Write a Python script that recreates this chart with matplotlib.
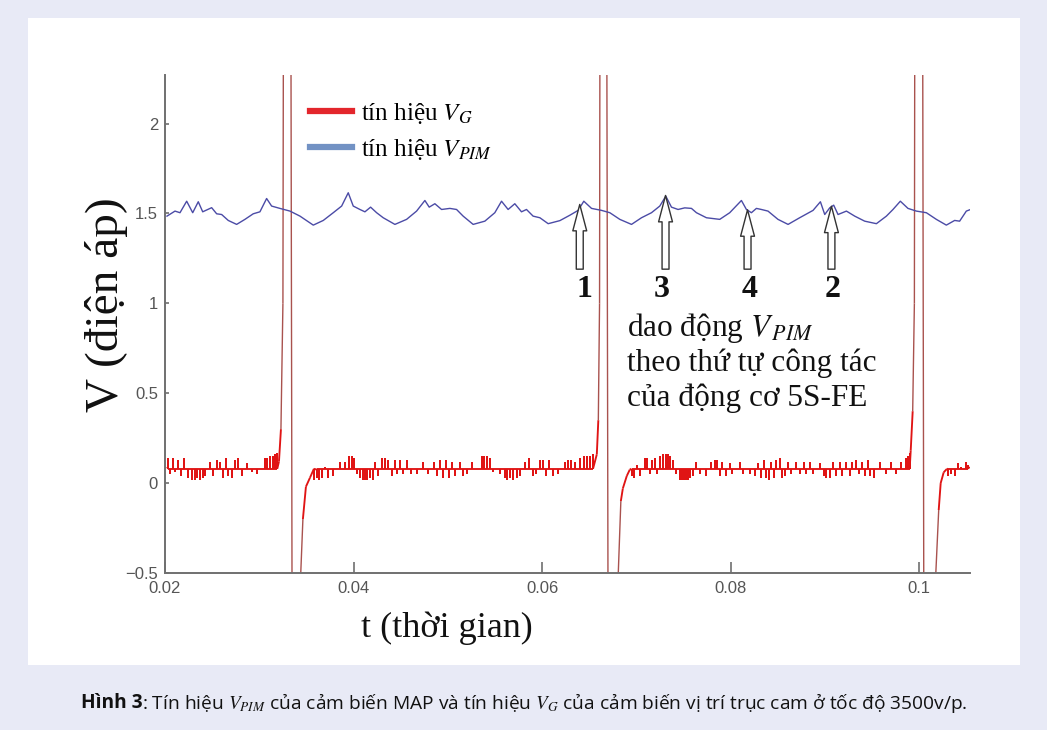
import numpy as np
import matplotlib.pyplot as plt
from matplotlib.collections import LineCollection
from matplotlib.lines import Line2D
from matplotlib.patches import Rectangle

plt.rcParams['mathtext.fontset'] = 'stix'

# V_PIM signal (MAP sensor)
pim_t = [0.02021, 0.02106, 0.02159, 0.02230, 0.02294, 0.02353, 0.02400, 0.02495,
         0.02548, 0.02601, 0.02671, 0.02760, 0.02848, 0.02936, 0.03007, 0.03078,
         0.03131, 0.03219, 0.03326, 0.03432, 0.03573, 0.03679, 0.03785, 0.03874,
         0.03944, 0.03997, 0.04068, 0.04121, 0.04181, 0.04245, 0.04315, 0.04439,
         0.04563, 0.04669, 0.04757, 0.04803, 0.04863, 0.04934, 0.05022, 0.05093,
         0.05163, 0.05269, 0.05393, 0.05499, 0.05570, 0.05640, 0.05711, 0.05782,
         0.05835, 0.05905, 0.05977, 0.06065, 0.06189, 0.06295, 0.06383, 0.06443,
         0.06525, 0.06631, 0.06719, 0.06825, 0.06949, 0.07055, 0.07161, 0.07249,
         0.07313, 0.07373, 0.07443, 0.07514, 0.07585, 0.07638, 0.07744, 0.07885,
         0.07991, 0.08115, 0.08168, 0.08221, 0.08274, 0.08327, 0.08397, 0.08503,
         0.08610, 0.08733, 0.08875, 0.08953, 0.08999, 0.09052, 0.09094, 0.09140,
         0.09229, 0.09317, 0.09423, 0.09547, 0.09653, 0.09723, 0.09801, 0.09882,
         0.09971, 0.10077, 0.10183, 0.10289, 0.10377, 0.10430, 0.10501, 0.10536]
pim_v = [1.485, 1.513, 1.504, 1.568, 1.504, 1.565, 1.509, 1.532,
         1.498, 1.494, 1.461, 1.439, 1.467, 1.498, 1.509, 1.583,
         1.541, 1.528, 1.513, 1.485, 1.435, 1.461, 1.504, 1.541,
         1.615, 1.541, 1.522, 1.509, 1.535, 1.504, 1.476, 1.439,
         1.467, 1.513, 1.572, 1.535, 1.554, 1.522, 1.528, 1.522,
         1.485, 1.439, 1.457, 1.504, 1.568, 1.522, 1.554, 1.509,
         1.522, 1.485, 1.476, 1.443, 1.460, 1.490, 1.517, 1.568,
         1.528, 1.517, 1.504, 1.467, 1.439, 1.476, 1.504, 1.541,
         1.596, 1.535, 1.522, 1.531, 1.528, 1.504, 1.476, 1.467,
         1.504, 1.572, 1.522, 1.504, 1.528, 1.522, 1.513, 1.467,
         1.439, 1.476, 1.517, 1.565, 1.494, 1.531, 1.546, 1.494,
         1.513, 1.485, 1.457, 1.443, 1.485, 1.522, 1.568, 1.528,
         1.513, 1.504, 1.467, 1.435, 1.461, 1.457, 1.513, 1.520]

# V_G signal (cam position sensor): pulse edges and baseline spikes
vg_base = 0.08
vg_edge_t = [0.02021,
             0.03209, 0.03230, 0.03251, 0.03256, 0.03336, 0.03348, 0.03425,
             0.03463, 0.03495, 0.03538, 0.03601,
             0.06581, 0.06597, 0.06610, 0.06614, 0.06687, 0.06700, 0.06795,
             0.06836, 0.06857, 0.06899, 0.06931,
             0.09911, 0.09932, 0.09950, 0.09954, 0.10038, 0.10050, 0.10160,
             0.10208, 0.10229, 0.10261, 0.10293,
             0.10536]
vg_edge_v = [0.09,
             0.12, 0.30, 1.0, 2.5, 2.5, -0.7, -0.7,
             -0.2, -0.02, 0.03, 0.075,
             0.16, 0.35, 1.0, 2.5, 2.5, -0.7, -0.7,
             -0.1, -0.03, 0.04, 0.075,
             0.18, 0.40, 1.0, 2.5, 2.5, -0.7, -0.7,
             -0.15, 0.0, 0.06, 0.078,
             0.09]
vg_spike_t = [0.02035, 0.02053, 0.02081, 0.02106, 0.02141, 0.02166, 0.02201, 0.02247,
              0.02283, 0.02318, 0.02343, 0.02371, 0.02400, 0.02424, 0.02477, 0.02506,
              0.02555, 0.02583, 0.02612, 0.02647, 0.02671, 0.02707, 0.02742, 0.02777,
              0.02813, 0.02873, 0.02919, 0.02972, 0.03060, 0.03085, 0.03113, 0.03142,
              0.03166, 0.03191,
              0.03580, 0.03609, 0.03637, 0.03668, 0.03697, 0.03732, 0.03785, 0.03856,
              0.03909, 0.03955, 0.03980, 0.04004, 0.04033, 0.04068, 0.04096, 0.04121,
              0.04145, 0.04174, 0.04202, 0.04227, 0.04262, 0.04298, 0.04333, 0.04368,
              0.04404, 0.04439, 0.04463, 0.04492, 0.04527, 0.04563, 0.04605, 0.04669,
              0.04739, 0.04792, 0.04853, 0.04888, 0.04916, 0.04952, 0.04980, 0.05008,
              0.05040, 0.05075, 0.05128, 0.05164, 0.05199, 0.05252, 0.05358, 0.05383,
              0.05411, 0.05446, 0.05482, 0.05552, 0.05605, 0.05630, 0.05658, 0.05694,
              0.05729, 0.05764, 0.05817, 0.05863, 0.05899, 0.05941, 0.05976, 0.06011,
              0.06047, 0.06075, 0.06117, 0.06170, 0.06241, 0.06276, 0.06312, 0.06347,
              0.06407, 0.06442, 0.06478, 0.06513, 0.06541,
              0.06949, 0.06977, 0.07002, 0.07037, 0.07090, 0.07115, 0.07143, 0.07171,
              0.07196, 0.07221, 0.07256, 0.07284, 0.07313, 0.07337, 0.07362, 0.07390,
              0.07426, 0.07461, 0.07479, 0.07497, 0.07514, 0.07532, 0.07550, 0.07567,
              0.07603, 0.07638, 0.07673, 0.07744, 0.07797, 0.07832, 0.07857, 0.07886,
              0.07914, 0.07949, 0.07992, 0.08020, 0.08098, 0.08133, 0.08204, 0.08257,
              0.08292, 0.08327, 0.08352, 0.08380, 0.08409, 0.08433, 0.08458, 0.08486,
              0.08522, 0.08550, 0.08575, 0.08610, 0.08645, 0.08698, 0.08734, 0.08776,
              0.08805, 0.08840, 0.08875, 0.08946, 0.08988, 0.09017, 0.09052, 0.09087,
              0.09123, 0.09158, 0.09186, 0.09229, 0.09264, 0.09292, 0.09328, 0.09363,
              0.09398, 0.09423, 0.09459, 0.09483, 0.09519, 0.09582, 0.09653, 0.09706,
              0.09759, 0.09812, 0.09858, 0.09883, 0.09900,
              0.10307, 0.10342, 0.10378, 0.10413, 0.10448, 0.10494, 0.10519]
vg_spike_v = [0.14, 0.05, 0.14, 0.06, 0.13, 0.04, 0.14, 0.03,
              0.02, 0.02, 0.03, 0.02, 0.03, 0.04, 0.12, 0.04,
              0.13, 0.12, 0.03, 0.14, 0.04, 0.03, 0.13, 0.14,
              0.04, 0.11, 0.06, 0.05, 0.14, 0.14, 0.15, 0.15,
              0.16, 0.17,
              0.02, 0.03, 0.02, 0.03, 0.09, 0.03, 0.04, 0.12,
              0.12, 0.15, 0.15, 0.14, 0.05, 0.03, 0.02, 0.02,
              0.02, 0.03, 0.02, 0.12, 0.04, 0.14, 0.14, 0.13,
              0.04, 0.13, 0.05, 0.13, 0.05, 0.13, 0.05, 0.05,
              0.12, 0.05, 0.12, 0.04, 0.13, 0.03, 0.13, 0.03,
              0.12, 0.04, 0.12, 0.04, 0.05, 0.12, 0.15, 0.15,
              0.15, 0.14, 0.06, 0.05, 0.03, 0.02, 0.03, 0.02,
              0.03, 0.04, 0.12, 0.14, 0.04, 0.05, 0.13, 0.13,
              0.04, 0.13, 0.04, 0.05, 0.12, 0.13, 0.13, 0.12,
              0.14, 0.15, 0.15, 0.15, 0.16,
              0.04, 0.03, 0.10, 0.04, 0.14, 0.14, 0.05, 0.13,
              0.14, 0.05, 0.15, 0.16, 0.16, 0.16, 0.15, 0.13,
              0.05, 0.02, 0.02, 0.02, 0.02, 0.02, 0.02, 0.03,
              0.04, 0.12, 0.05, 0.04, 0.12, 0.13, 0.13, 0.04,
              0.12, 0.04, 0.11, 0.05, 0.12, 0.05, 0.05, 0.04,
              0.11, 0.03, 0.13, 0.03, 0.02, 0.12, 0.03, 0.13,
              0.14, 0.03, 0.04, 0.12, 0.05, 0.12, 0.05, 0.12,
              0.05, 0.12, 0.05, 0.11, 0.04, 0.03, 0.03, 0.12,
              0.04, 0.12, 0.04, 0.12, 0.04, 0.12, 0.13, 0.05,
              0.12, 0.04, 0.13, 0.04, 0.03, 0.12, 0.05, 0.12,
              0.05, 0.12, 0.14, 0.15, 0.17,
              0.04, 0.05, 0.04, 0.11, 0.09, 0.12, 0.10]

x_ticks = [0.02, 0.04, 0.06, 0.08, 0.1]
x_tick_labels = ['0.02', '0.04', '0.06', '0.08', '0.1']
y_ticks = [-0.5, 0, 0.5, 1, 1.5, 2]
y_tick_labels = ['\u22120.5', '0', '0.5', '1', '1.5', '2']

# firing order arrows (cylinders 1-3-4-2)
arrow_t = [0.0640, 0.0731, 0.0818, 0.0907]
arrow_tip = [1.55, 1.60, 1.52, 1.54]
arrow_num = ['1', '3', '4', '2']
num_t = [0.0645, 0.0727, 0.0820, 0.0908]

legend_labels = ['tín hiệu $V_G$', 'tín hiệu $V_{PIM}$']
note_lines = ['dao động $V_{\\,PIM}$', 'theo thứ tự công tác', 'của động cơ 5S-FE']


def build_vg():
    pts = [(t, 0, v) for t, v in zip(vg_edge_t, vg_edge_v)]
    for t, v in zip(vg_spike_t, vg_spike_v):
        pts += [(t, 1, vg_base), (t, 2, v), (t, 3, vg_base)]
    pts.sort()
    return np.array([[p[0], p[2]] for p in pts])


def main():
    fig = plt.figure(figsize=(10.47, 7.30), dpi=100, facecolor='#e8eaf6')
    fig.add_artist(Rectangle((28 / 1047, 65 / 730), 992 / 1047, 647 / 730,
                             transform=fig.transFigure, fc='white', ec='none', zorder=0))

    ax = fig.add_axes([165 / 1047, 157 / 730, 805 / 1047, 498 / 730])
    ax.set_facecolor('none')

    # red V_G line: big edges are drawn thinner in a duller red
    xy = build_vg()
    segs = np.stack([xy[:-1], xy[1:]], axis=1)
    big = np.abs(np.diff(xy[:, 1])) > 0.3
    colors = np.where(big, '#a9524e', '#e01414')
    widths = np.where(big, 1.0, 1.35)
    lc = LineCollection(segs, colors=colors, linewidths=widths, zorder=2)
    ax.add_collection(lc)

    ax.plot(pim_t, pim_v, color='#4b4ba6', lw=1.0, zorder=3)

    ax.set_xlim(0.02, 0.1054)
    ax.set_ylim(-0.5, 2.27)

    for s in ['top', 'right']:
        ax.spines[s].set_visible(False)
    for s in ['left', 'bottom']:
        ax.spines[s].set_color('#707070')
        ax.spines[s].set_linewidth(1.4)

    ax.set_xticks(x_ticks)
    ax.set_xticklabels(x_tick_labels)
    ax.set_yticks(y_ticks)
    ax.set_yticklabels(y_tick_labels)
    ax.tick_params(axis='x', direction='in', length=8, width=1.2, color='#707070',
                   pad=6, labelsize=12, labelcolor='#555555')
    ax.tick_params(axis='y', direction='in', length=3, width=1.2, color='#707070',
                   pad=5, labelsize=12, labelcolor='#555555')
    for lab in ax.get_xticklabels() + ax.get_yticklabels():
        lab.set_family('Liberation Sans')

    # legend
    handles = [Line2D([], [], color='#e3262c', lw=4.5),
               Line2D([], [], color='#7292c4', lw=4.5)]
    ax.legend(handles, legend_labels, loc='upper left', bbox_to_anchor=(0.180, 0.948),
              frameon=False, borderpad=0, borderaxespad=0, handlelength=1.7,
              handletextpad=0.35, labelspacing=0.45,
              prop={'family': 'Liberation Serif', 'size': 18})

    # hollow arrows and cylinder numbers
    for t, tip in zip(arrow_t, arrow_tip):
        ax.annotate('', xy=(t, tip), xytext=(t, 1.19),
                    arrowprops=dict(arrowstyle='simple,head_length=1.9,head_width=1.0,tail_width=0.5',
                                    fc='white', ec='#333333', lw=1.0, mutation_scale=10,
                                    shrinkA=0, shrinkB=0), zorder=4)
    for t, n in zip(num_t, arrow_num):
        ax.text(t, 1.075, n, ha='center', va='center', fontsize=23, fontweight='bold',
                family='Liberation Serif', color='#111111')

    for i, line in enumerate(note_lines):
        ax.text(0.0690, 0.86 - i * 0.195, line, ha='left', va='center', fontsize=22.5,
                family='Liberation Serif', color='#111111')

    # axis labels
    fig.text(447 / 1047, 1 - 628 / 730, 't (thời gian)', ha='center', va='center',
             fontsize=26, family='Liberation Serif', color='#111111')
    fig.text(107 / 1047, 1 - 305 / 730, 'V (điện áp)', ha='center', va='center',
             rotation=90, fontsize=34, family='Liberation Serif', color='#111111')

    # caption
    cap_y = 1 - 703 / 730
    t1 = fig.text(0, cap_y, 'Hình 3', ha='left', va='center', fontsize=13.8,
                  fontweight='bold', family='Open Sans', color='#111111')
    t2 = fig.text(0, cap_y, ': Tín hiệu $V_{PIM}$ của cảm biến MAP và tín hiệu $V_G$ '
                  'của cảm biến vị trí trục cam ở tốc độ 3500v/p.',
                  ha='left', va='center', fontsize=13.8, family='Open Sans', color='#111111')
    r = fig.canvas.get_renderer()
    w1 = t1.get_window_extent(r).width
    w2 = t2.get_window_extent(r).width
    x0 = 524 - (w1 + w2) / 2
    t1.set_x(x0 / 1047)
    t2.set_x((x0 + w1) / 1047)

    fig.savefig('out.png', dpi=100, facecolor=fig.get_facecolor())


if __name__ == '__main__':
    main()
